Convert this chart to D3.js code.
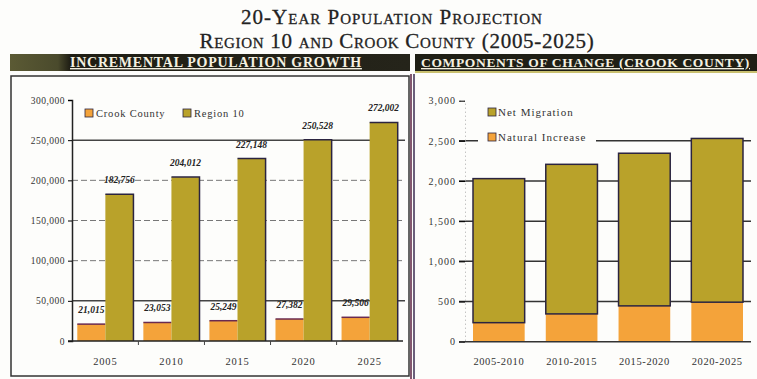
<!DOCTYPE html>
<html>
<head>
<meta charset="utf-8">
<script src="https://cdn.jsdelivr.net/npm/d3@7"></script>
<style>
  body { margin: 0; background: #fdfdfb; }
  svg { display: block; }
</style>
</head>
<body>
<div id="chart"></div>
<script>
// ---- data ----
const years = ["2005", "2010", "2015", "2020", "2025"];
const crookCounty = [21015, 23053, 25249, 27382, 29506];
const region10 = [182756, 204012, 227148, 250528, 272002];
const leftTicks = [0, 50000, 100000, 150000, 200000, 250000, 300000];

const periods = ["2005-2010", "2010-2015", "2015-2020", "2020-2025"];
const naturalIncrease = [237, 346, 446, 492];
const netMigration = [1793, 1862, 1900, 2038];
const rightTicks = [0, 500, 1000, 1500, 2000, 2500, 3000];

const olive = "#b9a22a", orange = "#f4a33a", edge = "#2b2440";
const serif = "'Liberation Serif', 'DejaVu Serif', serif";
const fmt = d3.format(",d");

const W = 757, H = 379;
const svg = d3.select("#chart").append("svg")
  .attr("width", W).attr("height", H)
  .style("font-family", serif);

// ---- title ----
const title = svg.append("g").attr("fill", "#222").attr("stroke", "#222").attr("stroke-width", 0.3)
  .style("font-variant", "small-caps")
  .attr("text-anchor", "middle").style("font-size", "21px").style("letter-spacing", "1px");
title.append("text").attr("x", 392).attr("y", 24).text("20-Year Population Projection");
title.append("text").attr("x", 397).attr("y", 48).style("letter-spacing", "0.7px")
  .text("Region 10 and Crook County (2005-2025)");

// ---- section headers ----
const hdrGrad = svg.append("defs").append("linearGradient").attr("id", "hdr");
hdrGrad.append("stop").attr("offset", "0%").attr("stop-color", "#5b5a34");
hdrGrad.append("stop").attr("offset", "12%").attr("stop-color", "#4a4a2c");
hdrGrad.append("stop").attr("offset", "15%").attr("stop-color", "#1f1e14");
hdrGrad.append("stop").attr("offset", "100%").attr("stop-color", "#25241a");

svg.append("rect").attr("x", 10).attr("y", 54).attr("width", 400).attr("height", 17).attr("fill", "url(#hdr)");
svg.append("rect").attr("x", 415).attr("y", 54).attr("width", 342).attr("height", 17).attr("fill", "#1f1f15");
svg.append("rect").attr("x", 415).attr("y", 71).attr("width", 342).attr("height", 2).attr("fill", "#c9c070");

const hdr = svg.append("g").attr("fill", "#f4f0e0")
  .style("font-weight", "bold").style("text-decoration", "underline");
hdr.append("text").attr("x", 70).attr("y", 67)
  .style("font-size", "14px").style("letter-spacing", "0.75px")
  .text("INCREMENTAL POPULATION GROWTH");
hdr.append("text").attr("x", 421).attr("y", 67)
  .style("font-size", "13.5px").style("letter-spacing", "0.65px")
  .text("COMPONENTS OF CHANGE (CROOK COUNTY)");

// ---- panel frames ----
svg.append("rect").attr("x", 11).attr("y", 76).attr("width", 398).attr("height", 300)
  .attr("fill", "none").attr("stroke", "#333").attr("stroke-width", 1.5);
svg.append("line").attr("x1", 411).attr("x2", 411).attr("y1", 74).attr("y2", 379)
  .attr("stroke", "#5a2040").attr("stroke-width", 1.5);
svg.append("line").attr("x1", 414).attr("x2", 414).attr("y1", 74).attr("y2", 379)
  .attr("stroke", "#3a2a50").attr("stroke-width", 1.5);

// ================= left chart =================
const L = { x0: 72, x1: 403, y0: 341, y1: 100 };
const xL = d3.scaleBand().domain(years).range([L.x0, L.x1]).paddingInner(0.15).paddingOuter(0.08);
const xLs = d3.scaleBand().domain(["crook", "region"]).range([0, xL.bandwidth()]);
const yL = d3.scaleLinear().domain([0, 300000]).range([L.y0, L.y1]);

const left = svg.append("g");
left.append("g").selectAll("line")
  .data(leftTicks.filter(d => d > 0 && d < 300000))
  .join("line")
  .attr("x1", L.x0).attr("x2", L.x1 + 2)
  .attr("y1", d => yL(d)).attr("y2", d => yL(d))
  .attr("stroke", d => (d === 50000 || d === 250000) ? "#444" : "#777")
  .attr("stroke-width", d => (d === 50000 || d === 250000) ? 1.5 : 1)
  .attr("stroke-dasharray", d => (d === 50000 || d === 250000) ? null : "6,3");

const yAxisL = left.append("g").attr("transform", `translate(${L.x0},0)`)
  .call(d3.axisLeft(yL).tickValues(leftTicks).tickFormat(fmt).tickSize(4));
yAxisL.select(".domain").attr("stroke", "#222").attr("stroke-width", 1.5);
yAxisL.selectAll("text").attr("font-size", 9.5).attr("font-family", serif).attr("fill", "#333")
  .attr("x", -7).style("letter-spacing", "0.5px");

left.append("g").selectAll("rect")
  .data(years)
  .join("rect")
  .attr("x", d => xL(d) + xLs("crook"))
  .attr("y", (d, i) => yL(crookCounty[i]))
  .attr("width", xLs.bandwidth())
  .attr("height", (d, i) => yL(0) - yL(crookCounty[i]))
  .attr("fill", orange);
left.append("g").selectAll("line")
  .data(years)
  .join("line")
  .attr("x1", d => xL(d) + xLs("crook")).attr("x2", d => xL(d) + xLs("crook") + xLs.bandwidth())
  .attr("y1", (d, i) => yL(crookCounty[i])).attr("y2", (d, i) => yL(crookCounty[i]))
  .attr("stroke", "#6a2a50").attr("stroke-width", 1.5);

left.append("g").selectAll("rect")
  .data(years)
  .join("rect")
  .attr("x", d => xL(d) + xLs("region"))
  .attr("y", (d, i) => yL(region10[i]))
  .attr("width", xLs.bandwidth())
  .attr("height", (d, i) => yL(0) - yL(region10[i]))
  .attr("fill", olive);
left.append("g").selectAll("path")
  .data(years)
  .join("path")
  .attr("d", (d, i) => {
    const x = xL(d) + xLs("region"), w = xLs.bandwidth(), y = yL(region10[i]);
    return `M${x},${y}H${x + w}V${yL(0)}`;
  })
  .attr("fill", "none").attr("stroke", edge).attr("stroke-width", 1.5);

// x axis with ticks between categories
const xAxisL = left.append("g").attr("transform", `translate(0,${L.y0})`);
xAxisL.append("line").attr("x1", L.x0 - 4).attr("x2", L.x1).attr("stroke", "#222").attr("stroke-width", 1.5);
xAxisL.selectAll(".tk").data(years.slice(1)).join("line")
  .attr("x1", d => xL(d) - xL.step() * xL.paddingInner() / 2)
  .attr("x2", d => xL(d) - xL.step() * xL.paddingInner() / 2)
  .attr("y1", 0).attr("y2", 4).attr("stroke", "#444");
xAxisL.selectAll("text").data(years).join("text")
  .attr("x", d => xL(d) + xL.bandwidth() / 2).attr("y", 24)
  .attr("text-anchor", "middle").attr("font-size", 10.5).style("letter-spacing", "0.8px")
  .attr("fill", "#333").text(d => d);

// value labels
const lbl = left.append("g").attr("fill", "#222").style("font-style", "italic")
  .style("font-weight", "bold").attr("font-size", 9.5).attr("text-anchor", "middle");
lbl.selectAll(".r").data(years).join("text")
  .attr("x", d => xL(d) + xLs("region") + xLs.bandwidth() / 2)
  .attr("y", (d, i) => yL(region10[i]) - 11)
  .text((d, i) => fmt(region10[i]));
lbl.selectAll(".c").data(years).join("text")
  .attr("x", d => xL(d) + xLs("crook") + xLs.bandwidth() / 2)
  .attr("y", (d, i) => yL(crookCounty[i]) - 11)
  .text((d, i) => fmt(crookCounty[i]));

// legend
const legL = left.append("g").attr("font-size", 10.5).attr("fill", "#333").style("letter-spacing", "0.8px");
[["Crook County", orange, 85], ["Region 10", olive, 183]].forEach(([name, c, x]) => {
  legL.append("rect").attr("x", x).attr("y", 109).attr("width", 8).attr("height", 8)
    .attr("fill", c).attr("stroke", edge).attr("stroke-width", 0.8);
  legL.append("text").attr("x", x + 11).attr("y", 117).text(name);
});

// ================= right chart =================
const R = { x0: 465, x1: 751, y0: 341.7, y1: 100.7 };
const xR = d3.scaleBand().domain(periods).range([R.x0, R.x1]).paddingInner(0.29).paddingOuter(0.11);
const yR = d3.scaleLinear().domain([0, 3000]).range([R.y0, R.y1]);

const right = svg.append("g");
right.append("g").selectAll("line")
  .data(rightTicks.filter(d => d > 0 && d < 3000))
  .join("line")
  .attr("x1", R.x0 - 6).attr("x2", R.x1)
  .attr("y1", d => yR(d)).attr("y2", d => yR(d))
  .attr("stroke", "#333").attr("stroke-width", 1.5);

const yAxisR = right.append("g").attr("transform", `translate(${R.x0},0)`)
  .call(d3.axisLeft(yR).tickValues(rightTicks).tickFormat(fmt).tickSize(6));
yAxisR.select(".domain").attr("stroke", "#aaa").attr("stroke-dasharray", "1,3");
yAxisR.selectAll("text").attr("font-size", 10).attr("font-family", serif).attr("fill", "#333")
  .attr("x", -9).style("letter-spacing", "1px");

const stacked = d3.stack().keys(["natural", "migration"])(
  periods.map((p, i) => ({ period: p, natural: naturalIncrease[i], migration: netMigration[i] }))
);
right.append("g").selectAll("rect")
  .data(stacked[0])
  .join("rect")
  .attr("x", d => xR(d.data.period)).attr("width", xR.bandwidth())
  .attr("y", d => yR(d[1])).attr("height", d => yR(d[0]) - yR(d[1]))
  .attr("fill", orange);
right.append("g").selectAll("rect")
  .data(stacked[1])
  .join("rect")
  .attr("x", d => xR(d.data.period)).attr("width", xR.bandwidth())
  .attr("y", d => yR(d[1])).attr("height", d => yR(d[0]) - yR(d[1]))
  .attr("fill", olive).attr("stroke", edge).attr("stroke-width", 1.5);

right.append("line").attr("x1", R.x0 - 6).attr("x2", R.x1)
  .attr("y1", R.y0).attr("y2", R.y0).attr("stroke", "#333").attr("stroke-width", 1.5);
right.selectAll(".xl").data(periods).join("text")
  .attr("x", d => xR(d) + xR.bandwidth() / 2).attr("y", R.y0 + 23)
  .attr("text-anchor", "middle").attr("font-size", 10.5).style("letter-spacing", "0.6px")
  .attr("fill", "#333").text(d => d);

const legR = right.append("g").attr("font-size", 11).attr("fill", "#333").style("letter-spacing", "1px");
legR.append("rect").attr("x", 478).attr("y", 128).attr("width", 118).attr("height", 20).attr("fill", "#fdfdfb");
[["Net Migration", olive, 113], ["Natural Increase", orange, 138]].forEach(([name, c, y]) => {
  legR.append("rect").attr("x", 488).attr("y", y - 5).attr("width", 8).attr("height", 8)
    .attr("fill", c).attr("stroke", edge).attr("stroke-width", 0.8);
  legR.append("text").attr("x", 498).attr("y", y + 3).text(name);
});
</script>
</body>
</html>
